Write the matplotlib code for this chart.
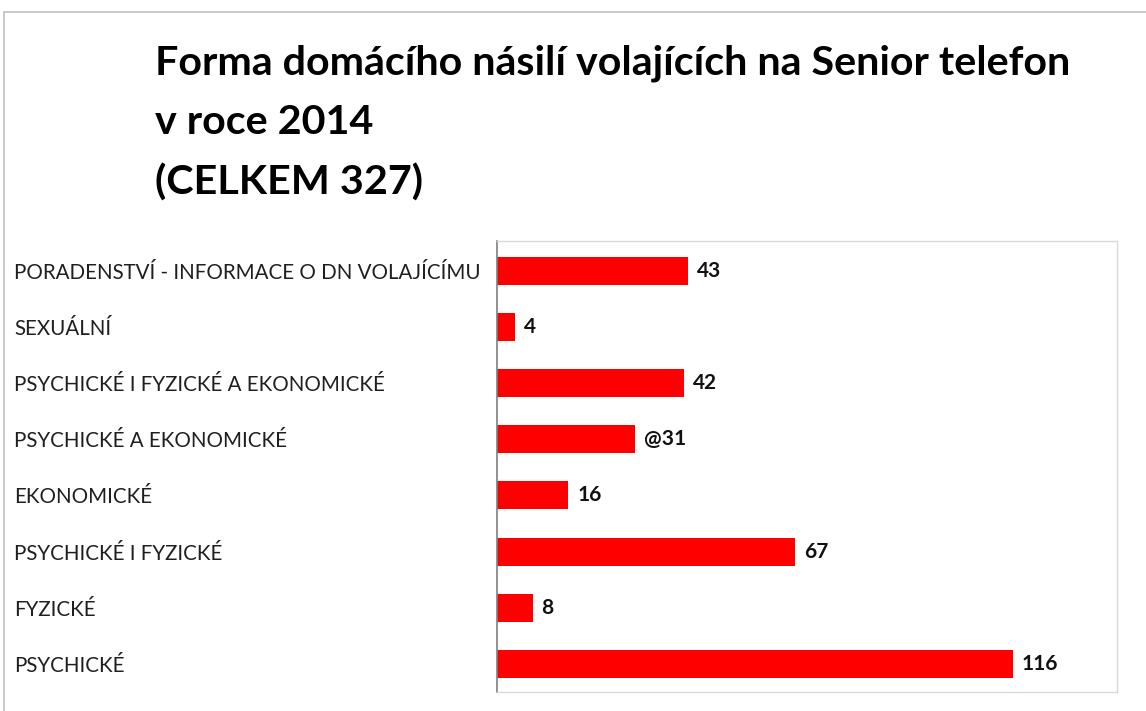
import matplotlib
matplotlib.use("Agg")
import matplotlib.pyplot as plt
from matplotlib.patches import Rectangle

categories = [
    "PORADENSTVÍ - INFORMACE O DN VOLAJÍCÍMU",
    "SEXUÁLNÍ",
    "PSYCHICKÉ I FYZICKÉ A EKONOMICKÉ",
    "PSYCHICKÉ A EKONOMICKÉ",
    "EKONOMICKÉ",
    "PSYCHICKÉ I FYZICKÉ",
    "FYZICKÉ",
    "PSYCHICKÉ",
]
values = [43, 4, 42, 31, 16, 67, 8, 116]
value_labels = ["43", "4", "42", "@31", "16", "67", "8", "116"]
title = "Forma domácího násilí volajících na Senior telefon\nv roce 2014\n(CELKEM 327)"

plt.rcParams['font.family'] = ['Lato', 'DejaVu Sans']

W, H = 1146, 711
fig = plt.figure(figsize=(W / 100, H / 100), dpi=100)

# outer chart frame
fig.patches.append(Rectangle((4 / W, -0.1), 1.2, 1 - 12 / H + 0.1, transform=fig.transFigure,
                             fill=False, edgecolor="#bfbfbf", linewidth=1.2))

left, right, top, bottom = 497, 1117, 241, 692
ax = fig.add_axes([left / W, 1 - bottom / H, (right - left) / W, (bottom - top) / H])

y = list(range(len(categories)))
bars = ax.barh(y, values, height=0.5, color="#ff0000")
ax.set_ylim(len(categories) - 0.5, -0.53)
ax.set_xlim(0, 139.4)
ax.set_xticks([])
ax.set_yticks(y)
ax.set_yticklabels(categories, fontsize=14.8, color="#1f1f1f")
pad_pt = (left - 14) * 0.72
ax.tick_params(axis="y", length=0, pad=pad_pt)
for lbl in ax.get_yticklabels():
    lbl.set_horizontalalignment("left")

for s in ["top", "right", "bottom"]:
    ax.spines[s].set_color("#d9d9d9")
    ax.spines[s].set_linewidth(1.0)
ax.spines["left"].set_color("#7f7f7f")
ax.spines["left"].set_linewidth(1.2)

ax.bar_label(bars, labels=value_labels, padding=6.5, fontsize=15, fontweight="bold", color="#111111")

fig.text(155 / W, 1 - 45 / H, title, ha="left", va="top", fontsize=29.7, fontweight="bold",
         color="#000000", linespacing=1.72)

fig.savefig("out.png", dpi=100)
